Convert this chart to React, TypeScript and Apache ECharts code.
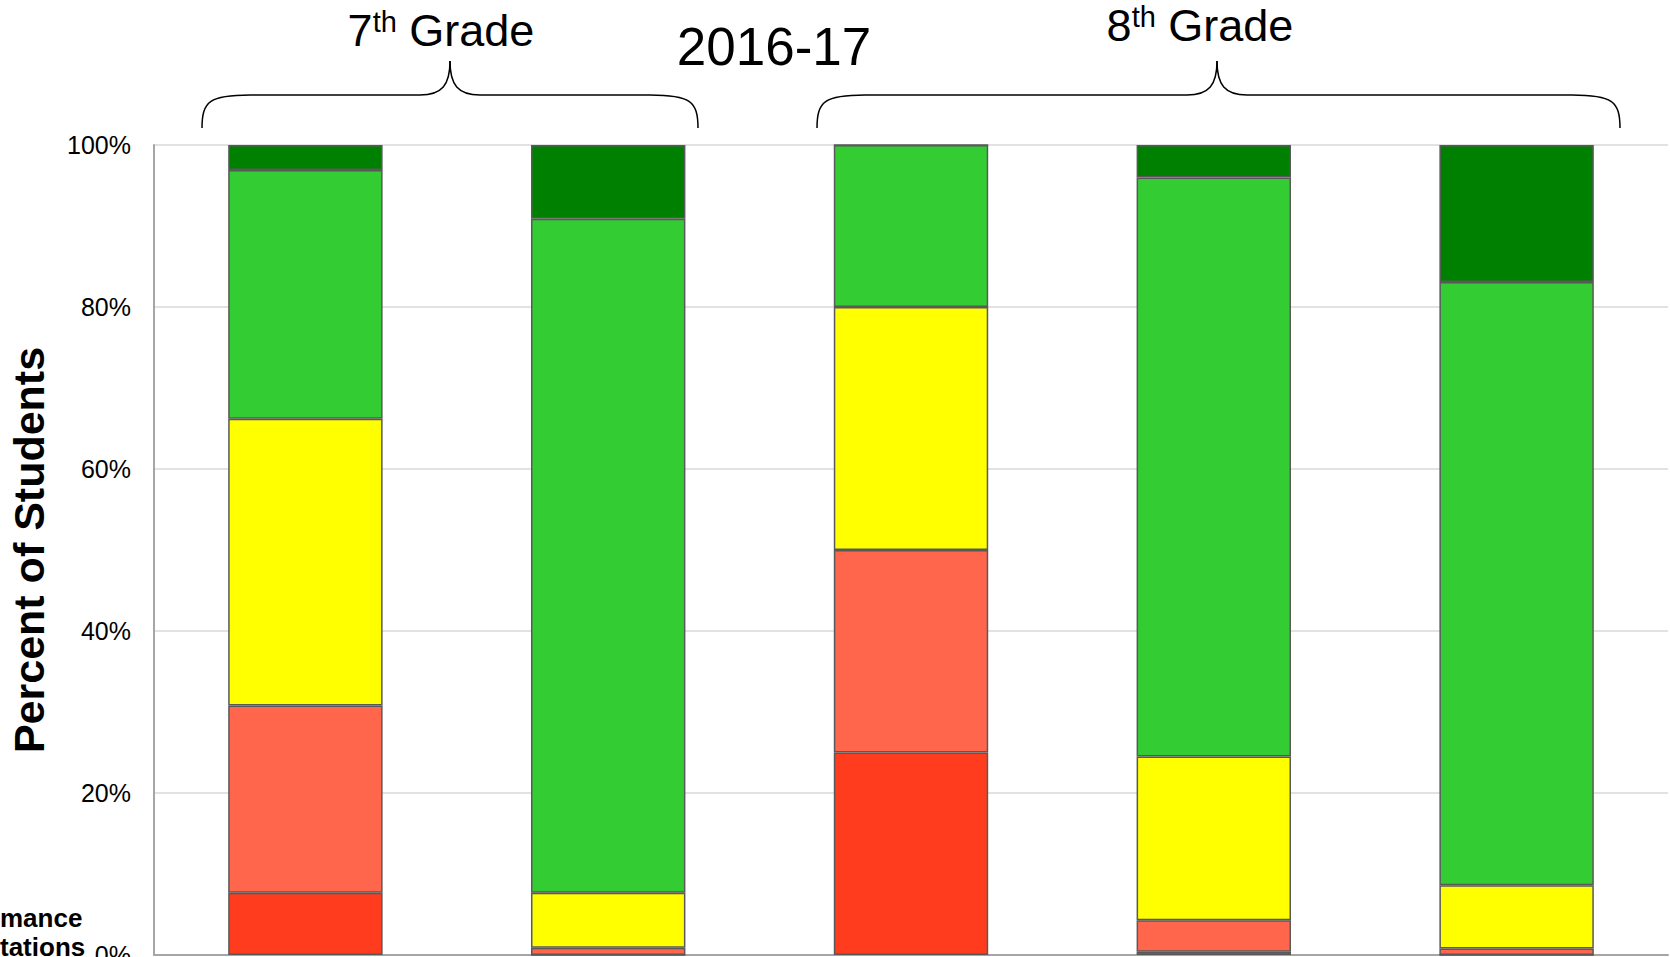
import React, { useEffect, useRef } from "react";
import * as echarts from "echarts";

const categories = ["Grade 7 ELA", "Grade 7 Math", "Grade 8 ELA", "Grade 8 Math", "Algebra I"];
const levelNames = [
  "Did Not Yet Meet Expectations",
  "Partially Met Expectations",
  "Approached Expectations",
  "Met Expectations",
  "Exceeded Expectations",
];
const level1 = [7.7, 0, 25, 0.4, 0];
const level2 = [23.1, 0.9, 25, 3.9, 0.8];
const level3 = [35.4, 6.8, 30, 20.2, 7.8];
const level4 = [30.7, 83.2, 20, 71.5, 74.5];
const level5 = [3.1, 9.1, 0, 4.0, 16.9];
const levelColors = ["#FF3C1E", "#FF664B", "#FFFF00", "#33CC33", "#008000"];
const yTicks = [0, 20, 40, 60, 80, 100];
const titleText = "2016-17";
const groupLabels = [
  { num: "7", sup: "th", rest: " Grade" },
  { num: "8", sup: "th", rest: " Grade" },
];
const sideTexts = ["mance", "tations"];

const FONT = "'Liberation Sans', Arial, sans-serif";

function brace(left: number, tip: number, right: number, yEnd: number, yMid: number, yTip: number) {
  const st = { stroke: "#000", lineWidth: 1.5, fill: "none" };
  const r = 48;
  const t = 30;
  return [
    { type: "bezierCurve", shape: { x1: left, y1: yEnd, cpx1: left, cpy1: yMid + 6, cpx2: left + 8, cpy2: yMid, x2: left + r, y2: yMid }, style: st },
    { type: "line", shape: { x1: left + r, y1: yMid, x2: tip - t, y2: yMid }, style: st },
    { type: "bezierCurve", shape: { x1: tip - t, y1: yMid, cpx1: tip - 8, cpy1: yMid, cpx2: tip, cpy2: yMid - 10, x2: tip, y2: yTip }, style: st },
    { type: "bezierCurve", shape: { x1: tip, y1: yTip, cpx1: tip, cpy1: yMid - 10, cpx2: tip + 8, cpy2: yMid, x2: tip + t, y2: yMid }, style: st },
    { type: "line", shape: { x1: tip + t, y1: yMid, x2: right - r, y2: yMid }, style: st },
    { type: "bezierCurve", shape: { x1: right - r, y1: yMid, cpx1: right - 8, cpy1: yMid, cpx2: right, cpy2: yMid + 6, x2: right, y2: yEnd }, style: st },
  ];
}

function gradeText(g: { num: string; sup: string; rest: string }, x: number, y: number) {
  return {
    type: "text",
    x,
    y,
    style: {
      text: `{n|${g.num}}{s|${g.sup}}{n|${g.rest}}`,
      align: "center",
      verticalAlign: "middle",
      rich: {
        n: { fontSize: 45, fontFamily: FONT, fill: "#000", lineHeight: 50, verticalAlign: "middle" },
        s: { fontSize: 29, fontFamily: FONT, fill: "#000", lineHeight: 50, verticalAlign: "top", padding: [2, 0, 0, 0] },
      },
    },
  };
}

export default function App() {
  const ref = useRef<HTMLDivElement>(null);
  useEffect(() => {
    if (!ref.current) return;
    const chart = echarts.init(ref.current, null, { renderer: "svg" });
    const data = [level1, level2, level3, level4, level5];
    chart.setOption({
      animation: false,
      backgroundColor: "#fff",
      grid: { left: 154, right: 2, top: 145, bottom: 2, containLabel: false, outerBoundsMode: "none" },
      xAxis: {
        type: "category",
        data: categories,
        axisLine: { lineStyle: { color: "#a6a6a6", width: 2 } },
        axisTick: { show: false },
        axisLabel: { show: false },
      },
      yAxis: {
        type: "value",
        min: yTicks[0],
        max: yTicks[yTicks.length - 1],
        interval: 20,
        name: "Percent of Students",
        nameLocation: "middle",
        nameGap: 104,
        nameTextStyle: { fontSize: 43, fontWeight: "bold", fontFamily: FONT, color: "#000" },
        axisLine: { show: true, lineStyle: { color: "#a6a6a6", width: 2 } },
        axisTick: { show: false },
        axisLabel: { formatter: "{value}%", fontSize: 25, fontFamily: FONT, color: "#000", margin: 23 },
        splitLine: { lineStyle: { color: "#d9d9d9", width: 1.5 } },
      },
      series: data.map((d, i) => ({
        name: levelNames[i],
        type: "bar",
        stack: "total",
        barWidth: "51%",
        data: d,
        itemStyle: { color: levelColors[i], borderColor: "#595959", borderWidth: 1.5 },
      })),
      graphic: [
        {
          type: "text",
          x: 774,
          y: 46,
          style: { text: titleText, fontSize: 53, fontFamily: FONT, fill: "#000", align: "center", verticalAlign: "middle" },
        },
        gradeText(groupLabels[0], 441, 30),
        gradeText(groupLabels[1], 1200, 25),
        ...brace(202, 450, 698, 128, 95, 61),
        ...brace(817, 1217, 1620, 128, 95, 61),
        {
          type: "text",
          x: 0,
          y: 918,
          style: { text: sideTexts[0], fontSize: 26, fontWeight: "bold", fontFamily: FONT, fill: "#000", align: "left", verticalAlign: "middle" },
        },
        {
          type: "text",
          x: 0,
          y: 947,
          style: { text: sideTexts[1], fontSize: 26, fontWeight: "bold", fontFamily: FONT, fill: "#000", align: "left", verticalAlign: "middle" },
        },
      ],
    });
    return () => chart.dispose();
  }, []);
  return <div ref={ref} style={{ width: 1670, height: 957, position: "absolute", left: 0, top: 0 }} />;
}
